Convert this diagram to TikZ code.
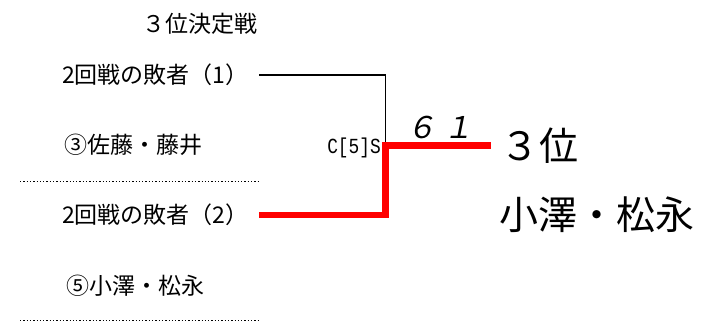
\documentclass[tikz,border=0pt]{standalone}
\usepackage{fontspec}
\setmainfont{Noto Sans CJK JP}
\newfontfamily\scorefont[FakeSlant=0.2]{Noto Sans CJK JP}
\newfontfamily\codefont[FakeStretch=0.83]{Liberation Mono}
\usetikzlibrary{positioning,calc}
\definecolor{winner}{RGB}{255,0,0}
\tikzset{
    base/.style={
        inner sep=0pt,
        text=black,
    },
    % Title
    title/.style={
        base,
        anchor=west,
        font=\fontsize{23bp}{27bp}\selectfont,
    },
    % Entrant names
    entry/.style={
        base,
        anchor=west,
        text width=197bp,
        align=left,
        font=\fontsize{23bp}{27bp}\selectfont,
    },
    % Match code
    code/.style={
        base,
        anchor=base east,
        font=\codefont\fontsize{21.5bp}{24bp}\selectfont,
    },
    % Score
    score/.style={
        base,
        font=\scorefont\fontsize{30bp}{34bp}\selectfont,
    },
    % Result
    result/.style={
        base,
        anchor=west,
        font=\fontsize{39bp}{45bp}\selectfont,
    },
    % Bracket lines
    loser/.style={
        draw=black,
        line width=1.5bp,
    },
    won/.style={
        draw=winner,
        line width=6.5bp,
        line join=miter,
    },
    sep/.style={
        draw=black,
        line width=1.3bp,
        dash pattern=on 1.3bp off 2bp,
    },
}

\begin{document}
\begin{tikzpicture}[x=1bp,y=-1bp]
    \useasboundingbox (0,0) rectangle (716,322);

    % Title
    \node[title] (T) at (142,24) {３位決定戦};

    % Entrants
    \node[entry] (L1) at (62,75) {2回戦の敗者（1）};
    \node[entry] (P1) at (64,145) {③佐藤・藤井};
    \node[entry] (L2) at (62,215) {2回戦の敗者（2）};
    \node[entry] (P2) at (66,286) {⑤小澤・松永};

    % Separators
    \draw[sep] (20,181.5) -- (260,181.5);
    \draw[sep] (20,320.5) -- (260,320.5);

    % Bracket
    \coordinate (J) at (385.5,145.5);
    \node[code] (C) at (381,153) {C[5]S};
    \node[score] (S) at (440,127) {６ １};
    \node[result] (R1) at (500,146) {３位};
    \node[result] (R2) at (499,215) {小澤・松永};

    \draw[loser] (L1.east) -| (J);
    \draw[won] (L2.east) -| (J) -- ([xshift=-9bp]R1.west |- J);
\end{tikzpicture}
\end{document}
